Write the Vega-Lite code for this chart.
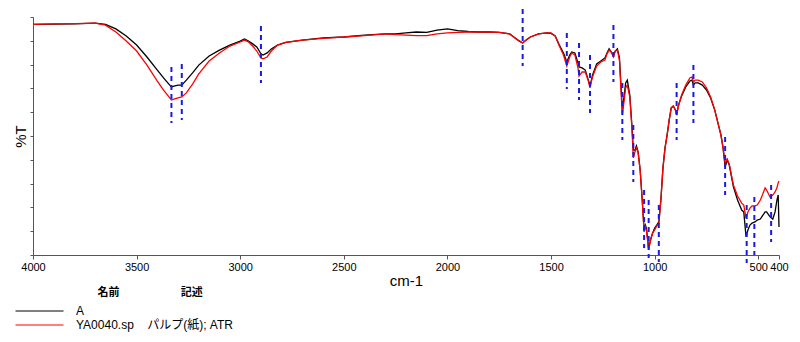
{
  "$schema": "https://vega.github.io/schema/vega-lite/v6.json",
  "autosize": "none",
  "width": 746,
  "height": 238,
  "padding": {"left": 33, "top": 17, "right": 21, "bottom": 87},
  "background": "white",
  "config": {
    "view": {"stroke": null},
    "font": "Liberation Sans, Arial, Noto Sans CJK JP",
    "axis": {"domainColor": "#555555", "tickColor": "#555555", "grid": false, "labelColor": "#000000", "titleColor": "#000000", "titleFontWeight": "normal"}
  },
  "datasets": {
    "spectra": [
      {"wn":4000,"A":96.9,"Y":96.9},{"wn":3900,"A":97.0,"Y":97.1},{"wn":3800,"A":97.1,"Y":97.2},{"wn":3700,"A":97.4,"Y":97.4},
      {"wn":3650,"A":96.9,"Y":96.6},{"wn":3600,"A":95.0,"Y":93.7},{"wn":3550,"A":92.0,"Y":89.9},{"wn":3500,"A":88.2,"Y":85.7},
      {"wn":3450,"A":83.2,"Y":79.8},{"wn":3400,"A":77.7,"Y":73.1},{"wn":3370,"A":74.4,"Y":69.3},{"wn":3340,"A":71.4,"Y":66.0},
      {"wn":3332,"A":70.6,"Y":65.1},{"wn":3320,"A":71.0,"Y":65.5},{"wn":3300,"A":71.4,"Y":66.0},{"wn":3282,"A":71.4,"Y":66.4},
      {"wn":3260,"A":73.5,"Y":68.1},{"wn":3230,"A":76.5,"Y":71.8},{"wn":3200,"A":79.8,"Y":76.1},{"wn":3150,"A":83.6,"Y":81.5},
      {"wn":3100,"A":86.1,"Y":84.9},{"wn":3050,"A":88.2,"Y":87.8},{"wn":3000,"A":89.9,"Y":89.5},{"wn":2980,"A":90.8,"Y":90.3},
      {"wn":2960,"A":89.9,"Y":89.5},{"wn":2940,"A":88.7,"Y":87.8},{"wn":2920,"A":87.4,"Y":85.7},{"wn":2900,"A":84.5,"Y":82.8},
      {"wn":2890,"A":84.0,"Y":82.4},{"wn":2870,"A":84.9,"Y":83.2},{"wn":2850,"A":86.6,"Y":85.7},{"wn":2820,"A":88.2,"Y":88.2},
      {"wn":2780,"A":89.3,"Y":89.3},{"wn":2700,"A":90.3,"Y":90.3},{"wn":2600,"A":91.2,"Y":91.0},{"wn":2500,"A":91.6,"Y":91.6},
      {"wn":2400,"A":92.4,"Y":92.2},{"wn":2300,"A":92.9,"Y":92.9},{"wn":2250,"A":92.9,"Y":92.6},{"wn":2200,"A":93.3,"Y":92.4},
      {"wn":2150,"A":93.7,"Y":92.2},{"wn":2100,"A":93.5,"Y":92.2},{"wn":2050,"A":94.5,"Y":92.9},{"wn":2000,"A":95.0,"Y":93.3},
      {"wn":1950,"A":94.3,"Y":93.5},{"wn":1900,"A":93.9,"Y":93.7},{"wn":1850,"A":93.7,"Y":93.7},{"wn":1800,"A":93.7,"Y":93.7},
      {"wn":1750,"A":93.5,"Y":93.5},{"wn":1700,"A":92.9,"Y":92.9},{"wn":1680,"A":91.6,"Y":91.6},{"wn":1660,"A":90.3,"Y":90.3},
      {"wn":1637,"A":89.1,"Y":89.1},{"wn":1620,"A":90.3,"Y":90.3},{"wn":1600,"A":91.6,"Y":91.6},{"wn":1560,"A":92.9,"Y":92.9},
      {"wn":1520,"A":93.3,"Y":93.3},{"wn":1500,"A":93.1,"Y":93.3},{"wn":1480,"A":92.0,"Y":92.0},{"wn":1460,"A":88.2,"Y":87.8},
      {"wn":1440,"A":84.9,"Y":84.0},{"wn":1424,"A":81.1,"Y":79.4},{"wn":1410,"A":84.0,"Y":83.2},{"wn":1400,"A":85.3,"Y":84.9},
      {"wn":1385,"A":84.9,"Y":84.0},{"wn":1370,"A":80.7,"Y":78.6},{"wn":1365,"A":79.0,"Y":75.2},{"wn":1350,"A":78.6,"Y":76.9},
      {"wn":1335,"A":77.7,"Y":76.9},{"wn":1320,"A":73.5,"Y":73.1},{"wn":1312,"A":71.0,"Y":70.2},{"wn":1300,"A":75.6,"Y":74.8},
      {"wn":1280,"A":80.3,"Y":79.4},{"wn":1260,"A":81.5,"Y":81.1},{"wn":1240,"A":82.8,"Y":81.9},{"wn":1230,"A":84.9,"Y":84.5},
      {"wn":1220,"A":86.6,"Y":86.1},{"wn":1210,"A":85.3,"Y":85.3},{"wn":1199,"A":84.0,"Y":83.2},{"wn":1190,"A":85.7,"Y":85.7},
      {"wn":1180,"A":86.6,"Y":86.1},{"wn":1170,"A":82.8,"Y":81.9},{"wn":1160,"A":67.2,"Y":65.1},{"wn":1156,"A":60.9,"Y":58.8},
      {"wn":1150,"A":65.1,"Y":63.0},{"wn":1140,"A":72.3,"Y":70.2},{"wn":1132,"A":73.5,"Y":71.4},{"wn":1120,"A":67.2,"Y":66.4},
      {"wn":1110,"A":54.6,"Y":53.8},{"wn":1103,"A":44.1,"Y":40.8},{"wn":1095,"A":44.1,"Y":43.3},{"wn":1088,"A":45.8,"Y":45.0},
      {"wn":1080,"A":43.3,"Y":43.3},{"wn":1070,"A":35.7,"Y":35.7},{"wn":1060,"A":23.1,"Y":23.1},{"wn":1051,"A":10.5,"Y":9.7},
      {"wn":1045,"A":12.6,"Y":11.8},{"wn":1040,"A":11.3,"Y":10.5},{"wn":1029,"A":2.9,"Y":2.1},{"wn":1020,"A":6.3,"Y":6.3},
      {"wn":1010,"A":9.2,"Y":9.2},{"wn":1000,"A":11.3,"Y":10.5},{"wn":990,"A":12.6,"Y":12.2},{"wn":980,"A":13.9,"Y":13.0},
      {"wn":970,"A":23.1,"Y":23.1},{"wn":960,"A":36.6,"Y":36.6},{"wn":950,"A":45.0,"Y":45.0},{"wn":940,"A":50.4,"Y":50.4},
      {"wn":930,"A":56.7,"Y":56.7},{"wn":920,"A":61.8,"Y":61.8},{"wn":910,"A":62.6,"Y":62.6},{"wn":900,"A":60.9,"Y":60.9},
      {"wn":894,"A":59.2,"Y":58.8},{"wn":885,"A":63.0,"Y":62.6},{"wn":870,"A":66.8,"Y":67.2},{"wn":850,"A":70.6,"Y":71.4},
      {"wn":830,"A":73.1,"Y":74.4},{"wn":820,"A":73.5,"Y":74.8},{"wn":813,"A":71.4,"Y":72.7},{"wn":805,"A":72.3,"Y":73.5},
      {"wn":790,"A":72.3,"Y":73.5},{"wn":770,"A":71.4,"Y":72.7},{"wn":750,"A":69.3,"Y":70.2},{"wn":730,"A":66.0,"Y":66.4},
      {"wn":710,"A":60.9,"Y":60.9},{"wn":690,"A":53.8,"Y":53.8},{"wn":680,"A":50.4,"Y":50.4},{"wn":670,"A":45.0,"Y":45.0},
      {"wn":660,"A":37.0,"Y":38.7},{"wn":650,"A":39.9,"Y":40.3},{"wn":640,"A":37.8,"Y":38.2},{"wn":620,"A":28.6,"Y":29.4},
      {"wn":600,"A":23.1,"Y":24.8},{"wn":580,"A":18.9,"Y":21.8},{"wn":570,"A":18.1,"Y":21.0},{"wn":559,"A":7.6,"Y":15.5},
      {"wn":550,"A":10.5,"Y":18.1},{"wn":540,"A":12.6,"Y":19.7},{"wn":530,"A":13.4,"Y":20.6},{"wn":516,"A":13.9,"Y":20.6},
      {"wn":505,"A":14.7,"Y":21.0},{"wn":490,"A":15.1,"Y":23.1},{"wn":480,"A":16.4,"Y":25.2},{"wn":467,"A":18.1,"Y":28.2},
      {"wn":460,"A":18.1,"Y":27.3},{"wn":443,"A":16.0,"Y":24.4},{"wn":430,"A":15.1,"Y":25.2},{"wn":419,"A":18.1,"Y":26.5},
      {"wn":410,"A":23.1,"Y":28.2},{"wn":404,"A":25.2,"Y":30.3},{"wn":400,"A":11.8,"Y":31.1}
    ],
    "peaks": [
      {"wn":3332,"y1":79.0,"y2":55.5},{"wn":3282,"y1":80.3,"y2":56.7},{"wn":2900,"y1":96.2,"y2":72.3},
      {"wn":1637,"y1":103.4,"y2":79.4},{"wn":1424,"y1":93.3,"y2":69.7},{"wn":1365,"y1":89.1,"y2":65.1},
      {"wn":1312,"y1":84.0,"y2":59.7},{"wn":1199,"y1":96.6,"y2":72.7},{"wn":1156,"y1":72.3,"y2":48.3},
      {"wn":1103,"y1":54.6,"y2":30.7},{"wn":1051,"y1":27.3,"y2":2.9},{"wn":1029,"y1":23.1,"y2":-1.3},
      {"wn":980,"y1":21.0,"y2":-2.9},{"wn":894,"y1":72.3,"y2":48.3},{"wn":813,"y1":79.8,"y2":55.5},
      {"wn":660,"y1":49.6,"y2":25.2},{"wn":556,"y1":21.0,"y2":-3.4},{"wn":519,"y1":24.4,"y2":0},
      {"wn":438,"y1":29.4,"y2":5.5}
    ]
  },
  "layer": [
    {
      "data": {"name": "spectra"},
      "transform": [{"fold": ["A", "Y"], "as": ["series", "t"]}],
      "mark": {"type": "line", "strokeWidth": 1.3, "interpolate": "linear"},
      "encoding": {
        "x": {
          "field": "wn", "type": "quantitative",
          "scale": {"domain": [4000, 400], "nice": false, "zero": false},
          "axis": {
            "title": "cm-1", "titleFontSize": 15, "titlePadding": 1, "format": "d",
            "values": [4000, 3500, 3000, 2500, 2000, 1500, 1000, 500, 400],
            "labelFontSize": 11, "labelOverlap": false, "labelBound": false, "labelFlush": false,
            "tickSize": 4, "labelPadding": 2
          }
        },
        "y": {
          "field": "t", "type": "quantitative",
          "scale": {"domain": [0, 100], "nice": false, "zero": false},
          "axis": {
            "title": "%T", "titleFontSize": 15, "titlePadding": 1, "labels": false, "labelOverlap": false,
            "values": [0, 10, 20, 30, 40, 50, 60, 70, 80, 90, 100], "tickCount": 11, "tickSize": 3
          }
        },
        "color": {
          "field": "series", "type": "nominal",
          "scale": {"domain": ["A", "Y"], "range": ["#000000", "#ff0000"]},
          "legend": {
            "orient": "none", "legendX": -18, "legendY": 270,
            "title": "\u200b\u00a0\u00a0\u00a0\u00a0\u00a0\u00a0\u00a0\u00a0\u00a0\u00a0\u00a0\u00a0\u00a0\u00a0\u00a0\u00a0\u00a0\u00a0\u00a0\u00a0\u00a0\u00a0\u00a0\u00a0\u00a0\u00a0\u00a0名前\u00a0\u00a0\u00a0\u00a0\u00a0\u00a0\u00a0\u00a0\u00a0\u00a0\u00a0\u00a0\u00a0\u00a0\u00a0\u00a0\u00a0\u00a0\u00a0\u00a0記述",
            "titleFontSize": 11, "titleFontWeight": "bold", "titlePadding": 5, "titleColor": "#000000", "titleLimit": 400,
            "symbolType": "M-1,0H5.4", "symbolSize": 225, "symbolStrokeWidth": 1,
            "labelFontSize": 12, "labelOffset": 45, "labelColor": "#000000", "labelLimit": 400,
            "rowPadding": 0, "padding": 0,
            "labelExpr": "datum.value == 'A' ? 'A' : 'YA0040.sp\u00a0\u00a0\u00a0\u00a0パルプ(紙); ATR'"
          }
        }
      }
    },
    {
      "data": {"name": "peaks"},
      "mark": {"type": "rule", "color": "#1a1ae6", "strokeWidth": 2, "strokeDash": [5, 4]},
      "encoding": {
        "x": {"field": "wn", "type": "quantitative"},
        "y": {"field": "y1", "type": "quantitative"},
        "y2": {"field": "y2"}
      }
    }
  ]
}
